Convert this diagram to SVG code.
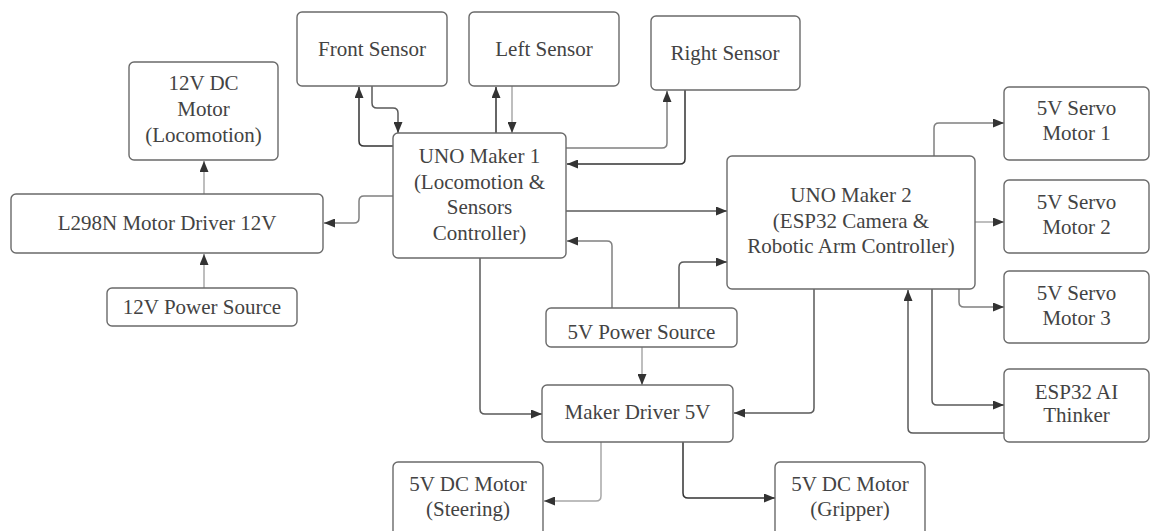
<svg xmlns="http://www.w3.org/2000/svg" width="1151" height="531" viewBox="0 0 1151 531">
<style>
.box{fill:#fff;stroke:#6a6a6a;stroke-width:1.4}
.t{font-family:'Liberation Serif',Tinos,'Times New Roman','DejaVu Serif',serif;font-size:21px;fill:#434343;text-anchor:middle}
.c{fill:none;stroke-width:1.5}
.d{stroke:#333}
.m{stroke:#5a5a5a}
.g{stroke:#808080}
.l{stroke:#a8a8a8}
</style>
<defs>
<marker id="ah" markerUnits="userSpaceOnUse" markerWidth="11" markerHeight="9" refX="11" refY="4.5" orient="auto">
<path d="M0,0 L11,4.5 L0,9 z" fill="#333"/>
</marker>
</defs>
<rect width="1151" height="531" fill="#fff"/>
<g id="connectors" marker-end="url(#ah)">
<path class="c d" d="M393,146 H364 Q359,146 359,141 V87"/>
<path class="c m" d="M372,86 V103 Q372,108 377,108 H393 Q398,108 398,113 V133"/>
<path class="c d" d="M496,133 V87"/>
<path class="c l" d="M512,86 V133"/>
<path class="c g" d="M566,148 H662 Q667,148 667,143 V91"/>
<path class="c d" d="M685,90 V159 Q685,164 680,164 H567"/>
<path class="c g" d="M393,196 H364 Q359,196 359,201 V218 Q359,223 354,223 H324"/>
<path class="c l" d="M204,194 V161"/>
<path class="c l" d="M204,288 V254"/>
<path class="c m" d="M566,211 H727"/>
<path class="c g" d="M612,308 V246 Q612,241 607,241 H567"/>
<path class="c m" d="M679,308 V267 Q679,262 684,262 H727"/>
<path class="c l" d="M642,347 V385"/>
<path class="c m" d="M480,258 V409 Q480,414 485,414 H542"/>
<path class="c m" d="M814,289 V408 Q814,413 809,413 H734"/>
<path class="c g" d="M934,156 V128 Q934,123 939,123 H1004"/>
<path class="c l" d="M975,222 H1004"/>
<path class="c g" d="M959,289 V302 Q959,307 964,307 H1004"/>
<path class="c m" d="M932,289 V400 Q932,405 937,405 H1004"/>
<path class="c m" d="M1004,433 H913 Q908,433 908,428 V290"/>
<path class="c l" d="M601,442 V496 Q601,501 596,501 H544"/>
<path class="c d" d="M683,442 V493 Q683,498 688,498 H775"/>
</g>
<g id="front-sensor"><rect class="box" x="297" y="12" width="150" height="74" rx="5"/><text class="t" x="372" y="56">Front Sensor</text></g>
<g id="left-sensor"><rect class="box" x="469" y="12" width="150" height="74" rx="5"/><text class="t" x="544" y="56">Left Sensor</text></g>
<g id="right-sensor"><rect class="box" x="651" y="16" width="149" height="74" rx="5"/><text class="t" x="725" y="60">Right Sensor</text></g>
<g id="motor-12v"><rect class="box" x="129" y="62" width="149" height="98" rx="5"/><text class="t" x="203.5" y="90">12V DC</text><text class="t" x="203.5" y="116">Motor</text><text class="t" x="203.5" y="142">(Locomotion)</text></g>
<g id="l298n"><rect class="box" x="11" y="194" width="312" height="59" rx="5"/><text class="t" x="167" y="230">L298N Motor Driver 12V</text></g>
<g id="power-12v"><rect class="box" x="107" y="288" width="190" height="38" rx="5"/><text class="t" x="202" y="314">12V Power Source</text></g>
<g id="uno-maker-1"><rect class="box" x="393" y="133" width="173" height="125" rx="5"/><text class="t" x="479.5" y="163">UNO Maker 1</text><text class="t" x="479.5" y="189">(Locomotion &amp;</text><text class="t" x="479.5" y="214">Sensors</text><text class="t" x="479.5" y="240">Controller)</text></g>
<g id="uno-maker-2"><rect class="box" x="727" y="156" width="248" height="133" rx="5"/><text class="t" x="851" y="202">UNO Maker 2</text><text class="t" x="851" y="228">(ESP32 Camera &amp;</text><text class="t" x="851" y="253">Robotic Arm Controller)</text></g>
<g id="servo-1"><rect class="box" x="1004" y="87" width="145" height="73" rx="5"/><text class="t" x="1076.5" y="115">5V Servo</text><text class="t" x="1076.5" y="140">Motor 1</text></g>
<g id="servo-2"><rect class="box" x="1004" y="180" width="145" height="73" rx="5"/><text class="t" x="1076.5" y="209">5V Servo</text><text class="t" x="1076.5" y="234">Motor 2</text></g>
<g id="servo-3"><rect class="box" x="1004" y="271" width="145" height="72" rx="5"/><text class="t" x="1076.5" y="300">5V Servo</text><text class="t" x="1076.5" y="325">Motor 3</text></g>
<g id="esp32-ai-thinker"><rect class="box" x="1004" y="369" width="145" height="73" rx="5"/><text class="t" x="1076.5" y="399">ESP32 AI</text><text class="t" x="1076.5" y="422">Thinker</text></g>
<g id="power-5v"><rect class="box" x="546" y="308" width="191" height="39" rx="5"/><text class="t" x="641.5" y="339">5V Power Source</text></g>
<g id="maker-driver"><rect class="box" x="542" y="385" width="191" height="57" rx="5"/><text class="t" x="637.5" y="419">Maker Driver 5V</text></g>
<g id="dc-steering"><rect class="box" x="393" y="462" width="150" height="74" rx="5"/><text class="t" x="468" y="491">5V DC Motor</text><text class="t" x="468" y="516">(Steering)</text></g>
<g id="dc-gripper"><rect class="box" x="775" y="462" width="150" height="74" rx="5"/><text class="t" x="850" y="491">5V DC Motor</text><text class="t" x="850" y="516">(Gripper)</text></g>
</svg>
